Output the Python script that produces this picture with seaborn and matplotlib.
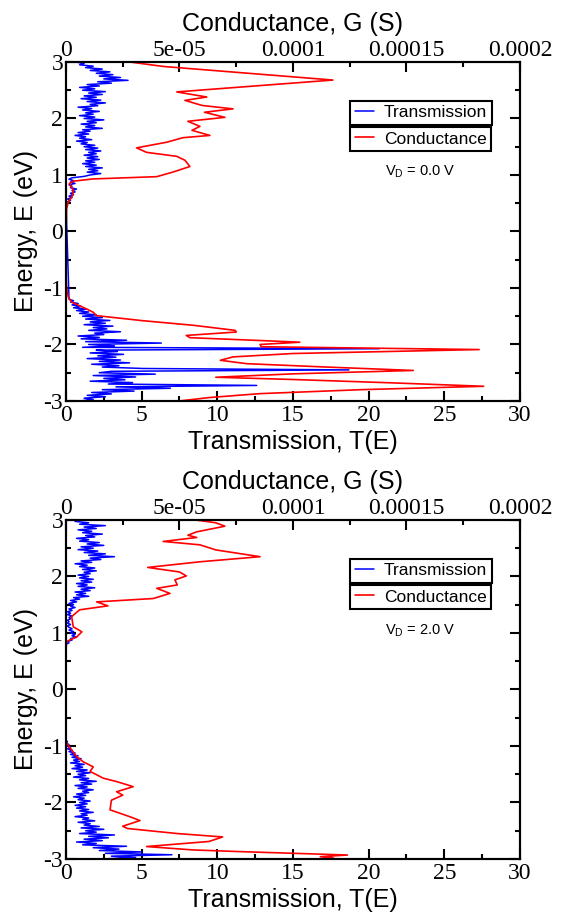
import numpy as np
import pandas as pd
import matplotlib
matplotlib.use('Agg')
import matplotlib.pyplot as plt
import seaborn as sns
from matplotlib.ticker import MultipleLocator

# --- dane ---
# siatka energii (eV) dla transmisji, krok 0.025 eV
E_up_top = np.linspace(3.0, 0.5, 101)
T_up_top = [0.6, 1.2, 0.9, 1.8, 1.3, 2.4, 1.6, 2.9, 2.0, 3.1, 2.2, 3.6, 2.5, 4.1, 2.1, 3.0,
            1.4, 2.2, 0.9, 1.9, 1.1, 2.6, 1.5, 2.4, 1.2, 2.0, 1.0, 2.3, 1.4, 2.6, 1.6, 2.1,
            0.8, 1.7, 1.1, 2.2, 1.3, 1.8, 0.9, 1.9, 1.2, 2.5, 1.4, 2.0, 1.0, 1.9, 1.3, 2.4,
            1.1, 1.6, 0.8, 1.5, 0.6, 1.3, 0.9, 1.7, 0.7, 1.4, 1.0, 1.9, 1.2, 2.1, 1.3, 2.3,
            1.5, 2.0, 1.2, 2.1, 1.4, 2.2, 1.3, 1.9, 1.1, 2.0, 1.3, 2.4, 1.5, 2.1, 1.4, 2.3,
            1.6, 1.2, 0.4, 0.2, 0.5, 0.3, 0.6, 0.2, 0.4, 0.3, 0.7, 0.4, 0.6, 0.3, 0.5, 0.2,
            0.4, 0.1, 0.3, 0.1, 0.0]
E_lo_top = np.linspace(-1.2, -3.0, 73)
T_lo_top = [0.2, 0.5, 0.3, 0.8, 0.4, 1.0, 0.5, 1.3, 0.7, 1.5, 0.9, 2.0, 1.1, 2.4, 1.3, 2.9,
            1.6, 2.6, 1.2, 3.1, 1.8, 2.7, 1.5, 3.6, 1.9, 2.5, 0.8, 2.2, 1.0, 4.0, 1.3, 6.3,
            1.5, 3.2, 1.1, 20.7, 2.0, 3.4, 1.6, 3.8, 2.1, 3.3, 1.4, 3.6, 2.2, 4.2, 1.7, 3.5,
            2.4, 5.1, 18.7, 3.0, 2.2, 5.9, 1.8, 4.6, 2.5, 3.9, 1.6, 4.4, 2.8, 12.6, 3.3, 6.9,
            2.4, 4.5, 1.7, 3.0, 1.4, 2.6, 1.2, 1.8, 0.9]

E_up_bot = np.linspace(3.0, 0.8, 89)
T_up_bot = [1.0, 0.6, 1.5, 0.9, 2.6, 1.2, 2.0, 0.8, 1.7, 1.1, 2.4, 1.3, 1.9, 0.7, 1.5, 0.9,
            2.2, 1.4, 2.5, 1.0, 1.8, 0.8, 2.1, 1.2, 2.6, 1.5, 3.2, 1.6, 2.3, 1.0, 1.7, 0.6,
            1.4, 0.9, 1.9, 1.1, 2.0, 1.2, 1.6, 0.8, 1.5, 0.9, 1.8, 1.0, 1.7, 0.7, 1.4, 0.8,
            1.9, 1.0, 1.6, 0.6, 1.3, 0.7, 1.5, 0.5, 0.9, 0.3, 0.7, 0.2, 0.5, 0.3, 0.6, 0.2,
            0.4, 0.1, 0.3, 0.1, 0.4, 0.2, 0.3, 0.1, 0.2, 0.1, 0.3, 0.1, 0.2, 0.4, 0.2, 0.5,
            0.3, 0.6, 0.4, 0.7, 0.3, 0.4, 0.1, 0.2, 0.0]
E_lo_bot = np.linspace(-0.9, -3.0, 85)
T_lo_bot = [0.0, 0.1, 0.0, 0.2, 0.1, 0.3, 0.1, 0.4, 0.2, 0.6, 0.3, 0.8, 0.4, 1.0, 0.5, 0.9,
            0.3, 1.2, 0.6, 1.1, 0.4, 1.4, 0.7, 1.6, 0.8, 1.3, 0.5, 1.5, 0.9, 2.0, 1.0, 1.7,
            0.6, 1.4, 0.8, 1.8, 1.1, 1.5, 0.7, 1.3, 0.5, 1.2, 0.8, 1.6, 0.9, 1.4, 0.6, 1.3,
            0.7, 1.5, 0.9, 1.8, 1.0, 1.4, 0.6, 1.5, 1.1, 1.9, 0.8, 1.6, 1.2, 2.2, 1.0, 2.5,
            1.3, 2.0, 0.9, 3.2, 1.5, 2.8, 1.2, 2.4, 0.7, 2.0, 1.1, 4.0, 1.8, 3.5, 2.2, 5.0,
            2.6, 7.0, 3.0, 4.6, 2.4]

# przewodnictwo G (S) w funkcji energii
E_G_top = [3.00, 2.92, 2.68, 2.47, 2.38, 2.32, 2.23, 2.17, 2.11, 2.02, 1.95, 1.86, 1.79, 1.70,
           1.66, 1.58, 1.48, 1.40, 1.33, 1.26, 1.15, 1.05, 0.97, 0.93, 0.89, 0.85, 0.78, 0.73,
           0.65, 0.61, 0.52, 0.40, 0.00, -0.80, -1.00, -1.16, -1.25, -1.37, -1.43, -1.49,
           -1.58, -1.66, -1.75, -1.78, -1.84, -1.88, -1.93, -1.96, -2.00, -2.04, -2.09, -2.16,
           -2.22, -2.28, -2.34, -2.40, -2.46, -2.52, -2.58, -2.62, -2.68, -2.74, -2.80, -2.87,
           -2.94, -3.00]
G_top = [2.8e-5, 4.3e-5, 1.176e-4, 4.88e-5, 6.2e-5, 5.24e-5, 6.0e-5, 7.36e-5, 6.1e-5, 7.0e-5,
         5.37e-5, 5.9e-5, 5.55e-5, 6.34e-5, 5.15e-5, 4.44e-5, 3.11e-5, 3.55e-5, 4.88e-5, 5.24e-5,
         5.46e-5, 4.7e-5, 4.0e-5, 1.2e-5, 3.2e-6, 1.5e-6, 2.5e-6, 3.2e-6, 3.0e-6, 2.5e-6, 1.0e-6,
         3e-7, 0.0, 0.0, 3e-7, 1e-6, 2.5e-6, 9e-6, 1.2e-5, 1.35e-5, 3.4e-5, 5.6e-5, 7.45e-5,
         7.5e-5, 5.3e-5, 5.46e-5, 8.55e-5, 1.03e-4, 8.55e-5, 8.6e-5, 1.82e-4, 1.0e-4, 7.36e-5,
         6.8e-5, 7.96e-5, 1.15e-4, 1.53e-4, 1.0e-4, 6.6e-5, 1.0e-4, 1.44e-4, 1.84e-4, 1.3e-4,
         8.55e-5, 6.3e-5, 5.0e-5]

E_G_bot = [3.00, 2.95, 2.89, 2.79, 2.73, 2.69, 2.62, 2.56, 2.47, 2.35, 2.26, 2.16, 2.08, 2.01,
           1.94, 1.85, 1.79, 1.70, 1.61, 1.55, 1.48, 1.41, 1.29, 1.11, 1.02, 0.93, 0.85, 0.70,
           -0.90, -0.95, -1.19, -1.28, -1.37, -1.45, -1.57, -1.63, -1.72, -1.81, -1.87, -1.96,
           -2.13, -2.25, -2.32, -2.42, -2.46, -2.55, -2.61, -2.69, -2.78, -2.84, -2.87, -2.93,
           -2.96, -2.99, -3.00]
G_bot = [5.7e-5, 6.6e-5, 7.0e-5, 5.76e-5, 5.37e-5, 5.76e-5, 4.28e-5, 5.9e-5, 6.6e-5, 8.55e-5,
         5.9e-5, 3.6e-5, 5.0e-5, 5.3e-5, 4.8e-5, 4.9e-5, 4.0e-5, 4.58e-5, 3.85e-5, 1.35e-5,
         1.85e-5, 6e-6, 2.5e-6, 3.2e-6, 7e-6, 4.7e-6, 3e-7, 0.0, 0.0, 3e-7, 4.7e-6, 7.6e-6,
         1.2e-5, 1.06e-5, 1.64e-5, 2.23e-5, 2.96e-5, 2.23e-5, 2.5e-5, 2.0e-5, 1.94e-5, 2.8e-5,
         3.26e-5, 2.5e-5, 2.7e-5, 4.9e-5, 6.9e-5, 6.3e-5, 3.55e-5, 5.6e-5, 7.7e-5, 1.24e-4,
         1.12e-4, 1.18e-4, 1.15e-4]

bias_labels = ['0.0', '2.0']

sns.set_style('ticks')
plt.rcParams['axes.unicode_minus'] = False
plt.rcParams['font.family'] = ['Liberation Sans', 'DejaVu Sans']
for k in ('axes.edgecolor', 'axes.labelcolor', 'xtick.color', 'ytick.color', 'text.color'):
    plt.rcParams[k] = 'black'

SERIF = 'Liberation Serif'

fig = plt.figure(figsize=(5.63, 9.14), dpi=100)
panels = [
    (0.5613, E_up_top, T_up_top, E_lo_top, T_lo_top, E_G_top, G_top, bias_labels[0]),
    (0.0602, E_up_bot, T_up_bot, E_lo_bot, T_lo_bot, E_G_bot, G_bot, bias_labels[1]),
]

for bottom, Eu, Tu, El, Tl, EG, G, vd in panels:
    ax = fig.add_axes([0.1172, bottom, 0.8064, 0.3709])
    ax2 = ax.twiny()

    trans = pd.DataFrame({'E': np.concatenate([Eu, El]), 'T': list(Tu) + list(Tl)})
    cond = pd.DataFrame({'E': EG, 'G': G})

    sns.lineplot(data=trans, x='T', y='E', sort=False, estimator=None, ax=ax,
                 color='#0000ff', lw=1.1, label='Transmission')
    sns.lineplot(data=cond, x='G', y='E', sort=False, estimator=None, ax=ax2,
                 color='#ff0000', lw=1.2, label='Conductance')

    ax.set_xlim(0, 30)
    ax.set_ylim(-3, 3)
    ax2.set_xlim(0, 2e-4)

    ax.xaxis.set_major_locator(MultipleLocator(5))
    ax.xaxis.set_minor_locator(MultipleLocator(2.5))
    ax.yaxis.set_major_locator(MultipleLocator(1))
    ax.yaxis.set_minor_locator(MultipleLocator(0.5))
    ax2.set_xticks([0, 5e-5, 1e-4, 1.5e-4, 2e-4])
    ax2.set_xticklabels(['0', '5e-05', '0.0001', '0.00015', '0.0002'])
    ax2.xaxis.set_minor_locator(MultipleLocator(2.5e-5))

    ax.tick_params(which='both', direction='in', width=1.5, right=True, top=False,
                   labelsize=17)
    ax.tick_params(which='major', length=7)
    ax.tick_params(which='minor', length=3.5)
    ax.tick_params(axis='x', pad=3)
    ax.tick_params(axis='y', pad=2)
    ax2.tick_params(which='both', direction='in', width=1.5, labelsize=17, pad=1)
    ax2.tick_params(which='major', length=7)
    ax2.tick_params(which='minor', length=3.5)
    for a in (ax, ax2):
        for lab in a.get_xticklabels() + a.get_yticklabels():
            lab.set_family(SERIF)
        for sp in a.spines.values():
            sp.set_linewidth(1.5)
            sp.set_color('black')
            sp.set_visible(True)

    ax.set_xlabel('Transmission, T(E)', fontsize=18, labelpad=3)
    ax.set_ylabel('Energy, E (eV)', fontsize=18, labelpad=4)
    ax2.set_xlabel('Conductance, G (S)', fontsize=18, labelpad=6)
    ax2.set_ylabel('')

    leg_kw = dict(loc='upper left', fontsize=12.5, frameon=True, fancybox=False,
                  framealpha=1, edgecolor='black', handlelength=1.1, handletextpad=0.6,
                  borderpad=0.25, borderaxespad=0)
    l1 = ax.legend(bbox_to_anchor=(0.626, 0.885), **leg_kw)
    l2 = ax2.legend(bbox_to_anchor=(0.626, 0.808), **leg_kw)
    for lg in (l1, l2):
        lg.get_frame().set_linewidth(1.5)
        lg.set_zorder(5)
    ax.text(0.78, 0.675, r'V$_\mathregular{D}$ = ' + vd + ' V', transform=ax.transAxes,
            ha='center', va='center', fontsize=10.5)

fig.savefig('out.png', dpi=100)
